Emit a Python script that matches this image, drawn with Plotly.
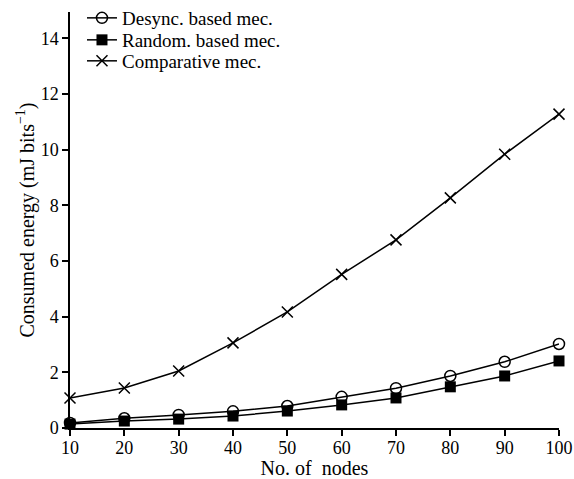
import plotly.graph_objects as go

nodes = [10, 20, 30, 40, 50, 60, 70, 80, 90, 100]
desync = [0.18, 0.35, 0.47, 0.60, 0.79, 1.12, 1.43, 1.87, 2.38, 3.02]
random_mec = [0.14, 0.25, 0.32, 0.43, 0.61, 0.83, 1.08, 1.48, 1.87, 2.41]
comparative = [1.08, 1.44, 2.05, 3.06, 4.17, 5.52, 6.76, 8.27, 9.84, 11.28]
y_ticks = [0, 2, 4, 6, 8, 10, 12, 14]

serif = "Liberation Serif, Times New Roman, serif"
def f(size):
    return dict(family=serif, size=size, color="black")

fig = go.Figure()
fig.add_trace(go.Scatter(x=nodes, y=desync, mode="lines+markers", name="Desync. based mec.",
                         line=dict(color="black", width=1.5),
                         marker=dict(symbol="circle-open", size=11, color="black", line=dict(width=1.5)),
                         cliponaxis=False, legend="legend"))
fig.add_trace(go.Scatter(x=nodes, y=random_mec, mode="lines+markers", name="Random. based mec.",
                         line=dict(color="black", width=1.5),
                         marker=dict(symbol="square", size=11, color="black"),
                         cliponaxis=False, legend="legend2"))
fig.add_trace(go.Scatter(x=nodes, y=comparative, mode="lines+markers", name="Comparative mec.",
                         line=dict(color="black", width=1.5),
                         marker=dict(symbol="x-thin", size=11, color="black", line=dict(width=1.5, color="black")),
                         cliponaxis=False, legend="legend3"))

leg = dict(x=0.0245, xanchor="left", yanchor="middle", yref="container", bgcolor="rgba(0,0,0,0)",
           font=f(19), itemsizing="trace", borderwidth=0)

fig.update_layout(
    width=574, height=479,
    margin=dict(l=70, r=15, t=12, b=51, autoexpand=False),
    paper_bgcolor="white", plot_bgcolor="white",
    font=f(18),
    showlegend=True,
    legend=dict(leg, y=0.9624),
    legend2=dict(leg, y=0.9165),
    legend3=dict(leg, y=0.8727),
)
fig.update_xaxes(range=[10, 100], tickvals=nodes, showline=True, linecolor="black", linewidth=1.5,
                 ticks="outside", ticklen=6, tickwidth=1.5, tickcolor="black", showgrid=False, zeroline=False,
                 tickfont=f(18), automargin=False, ticklabelstandoff=-3,
                 title=dict(text="No. of\u00a0\u00a0nodes", standoff=0, font=f(20)))
fig.update_yaxes(range=[0, 14.95], tickvals=y_ticks, showline=True, linecolor="black", linewidth=1.5,
                 ticks="outside", ticklen=6, tickwidth=1.5, tickcolor="black", showgrid=False, zeroline=False,
                 tickfont=f(18), automargin=False,
                 title=dict(text="Consumed energy (mJ bits<sup>−1</sup>)", standoff=1, font=f(20)))

fig.write_html("out.html", config={"displayModeBar": False},
               post_script="document.body.style.margin='0px';document.documentElement.style.overflow='hidden';document.body.style.overflow='hidden';")
